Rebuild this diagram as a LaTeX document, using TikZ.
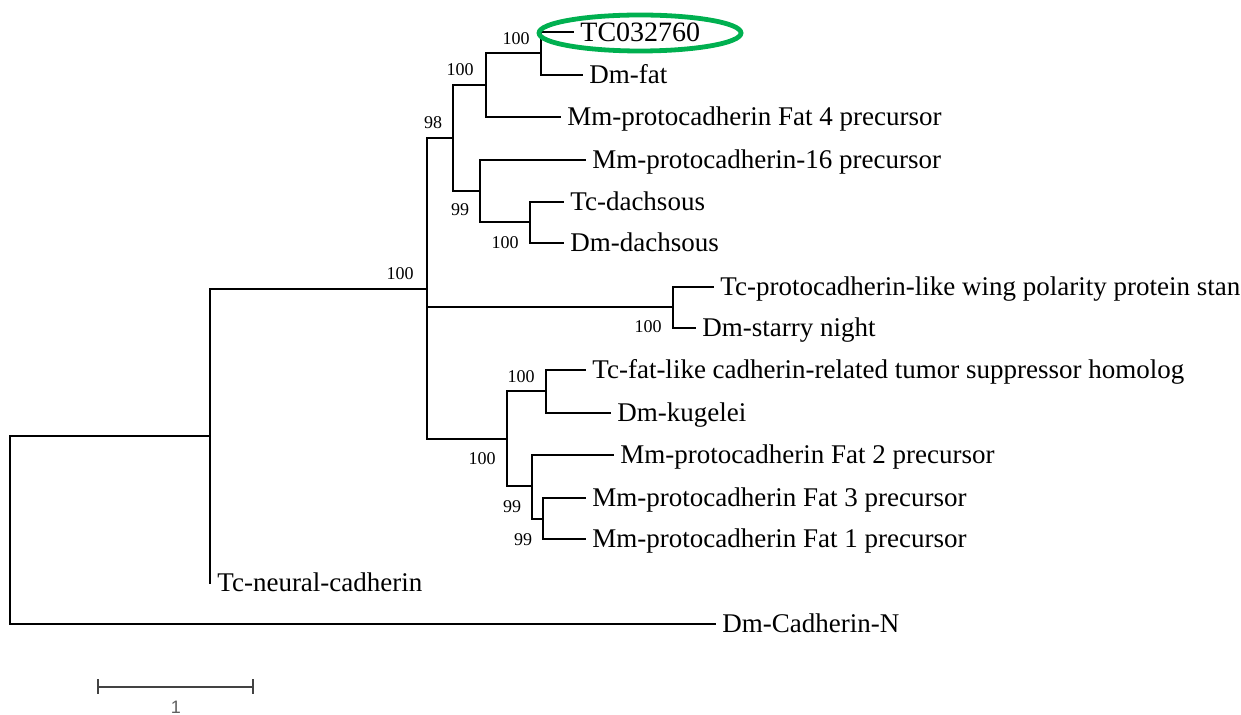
\documentclass[tikz,border=0pt]{standalone}
\usepackage{fontspec}
\setmainfont{Liberation Serif}
\newfontfamily\barfont{Liberation Sans}
\usepackage{xcolor}
\usepackage{tikz}
\usetikzlibrary{shapes.geometric, positioning, calc}
\definecolor{markgreen}{RGB}{0, 176, 80}
\definecolor{bargray}{RGB}{95, 95, 95}
\tikzset{
  branch/.style={line width=1pt, black, line cap=rect},
  taxon/.style={anchor=west, font=\fontsize{13.5}{16}\selectfont, text height=8.9pt, text depth=0pt, inner xsep=3.5pt, inner ysep=0pt},
  boot/.style={font=\fontsize{9}{11}\selectfont, inner sep=0pt},
}

\begin{document}
\begin{tikzpicture}[x=0.5pt, y=-0.5pt]
    \useasboundingbox (0,0) rectangle (1241,715);

    % internal nodes of the tree
    \coordinate (root) at (10,530);
    \coordinate (nA) at (210,436);
    \coordinate (nB) at (427,289);
    \coordinate (nC) at (453,138);
    \coordinate (nD) at (486,85.5);
    \coordinate (nE) at (541,53.5);
    \coordinate (nG) at (480,191.5);
    \coordinate (nH) at (530,222.5);
    \coordinate (nS) at (673,307.5);
    \coordinate (nK) at (507,439);
    \coordinate (nL) at (546,391.5);
    \coordinate (nM) at (532,486.5);
    \coordinate (nN) at (543,518.5);

    % leaf tips
    \coordinate (tTC) at (573,32);
    \coordinate (tDmFat) at (582,75);
    \coordinate (tFat4) at (560,117);
    \coordinate (tPc16) at (585,160);
    \coordinate (tTcDs) at (563,202);
    \coordinate (tDmDs) at (563,243);
    \coordinate (tTcStan) at (713,287);
    \coordinate (tDmSn) at (695,328);
    \coordinate (tTcFat) at (585,370);
    \coordinate (tDmKug) at (610,413);
    \coordinate (tFat2) at (613,455);
    \coordinate (tFat3) at (585,498);
    \coordinate (tFat1) at (585,539);
    \coordinate (tTcNc) at (210,583);
    \coordinate (tDmCad) at (715,624);

    \foreach \from/\to in {root/nA, root/tDmCad, nA/nB, nA/tTcNc,
        nB/nC, nB/nS, nB/nK, nC/nD, nC/nG, nD/nE, nD/tFat4,
        nE/tTC, nE/tDmFat, nG/tPc16, nG/nH, nH/tTcDs, nH/tDmDs,
        nS/tTcStan, nS/tDmSn, nK/nL, nK/nM, nL/tTcFat, nL/tDmKug,
        nM/tFat2, nM/nN, nN/tFat3, nN/tFat1}
        \draw[branch] (\from) |- (\to);

    \node[taxon, font=\fontsize{14}{16}\selectfont, text height=9.3pt] (lTC) at (tTC) {TC032760};
    \node[taxon] (lDmFat) at (tDmFat) {Dm-fat};
    \node[taxon] (lFat4) at (tFat4) {Mm-protocadherin Fat 4 precursor};
    \node[taxon] (lPc16) at (tPc16) {Mm-protocadherin-16 precursor};
    \node[taxon] (lTcDs) at (tTcDs) {Tc-dachsous};
    \node[taxon] (lDmDs) at (tDmDs) {Dm-dachsous};
    \node[taxon] (lTcStan) at (tTcStan) {Tc-protocadherin-like wing polarity protein stan};
    \node[taxon] (lDmSn) at (tDmSn) {Dm-starry night};
    \node[taxon] (lTcFat) at (tTcFat) {Tc-fat-like cadherin-related tumor suppressor homolog};
    \node[taxon] (lDmKug) at (tDmKug) {Dm-kugelei};
    \node[taxon] (lFat2) at (tFat2) {Mm-protocadherin Fat 2 precursor};
    \node[taxon] (lFat3) at (tFat3) {Mm-protocadherin Fat 3 precursor};
    \node[taxon] (lFat1) at (tFat1) {Mm-protocadherin Fat 1 precursor};
    \node[taxon] (lTcNc) at (tTcNc) {Tc-neural-cadherin};
    \node[taxon] (lDmCad) at (tDmCad) {Dm-Cadherin-N};

    % bootstrap values
    \node[boot] (bE) at (516,39) {100};
    \node[boot] (bD) at (460,70) {100};
    \node[boot] (bC) at (433,123) {98};
    \node[boot] (bG) at (460,210) {99};
    \node[boot] (bH) at (505,243) {100};
    \node[boot] (bB) at (400,274) {100};
    \node[boot] (bS) at (648,327) {100};
    \node[boot] (bL) at (521,377) {100};
    \node[boot] (bK) at (482,459) {100};
    \node[boot] (bM) at (512,507) {99};
    \node[boot] (bN) at (523,540) {99};

    \node[draw=markgreen, line width=2.4pt, ellipse, minimum width=101pt, minimum height=18pt, inner sep=0pt] (mark) at (640,33) {};

    % scale bar
    \coordinate (sL) at (98,687);
    \coordinate (sR) at (253,687);
    \draw[line width=1pt, bargray!70!black] (sL) -- (sR);
    \draw[line width=1pt, bargray!70!black] ($(sL)+(0,-8)$) -- ($(sL)+(0,7)$);
    \draw[line width=1pt, bargray!70!black] ($(sR)+(0,-8)$) -- ($(sR)+(0,7)$);
    \node[font=\barfont\fontsize{9}{11}\selectfont, text=bargray, inner sep=0pt] (sLbl) at (176,707) {1};
\end{tikzpicture}
\end{document}
